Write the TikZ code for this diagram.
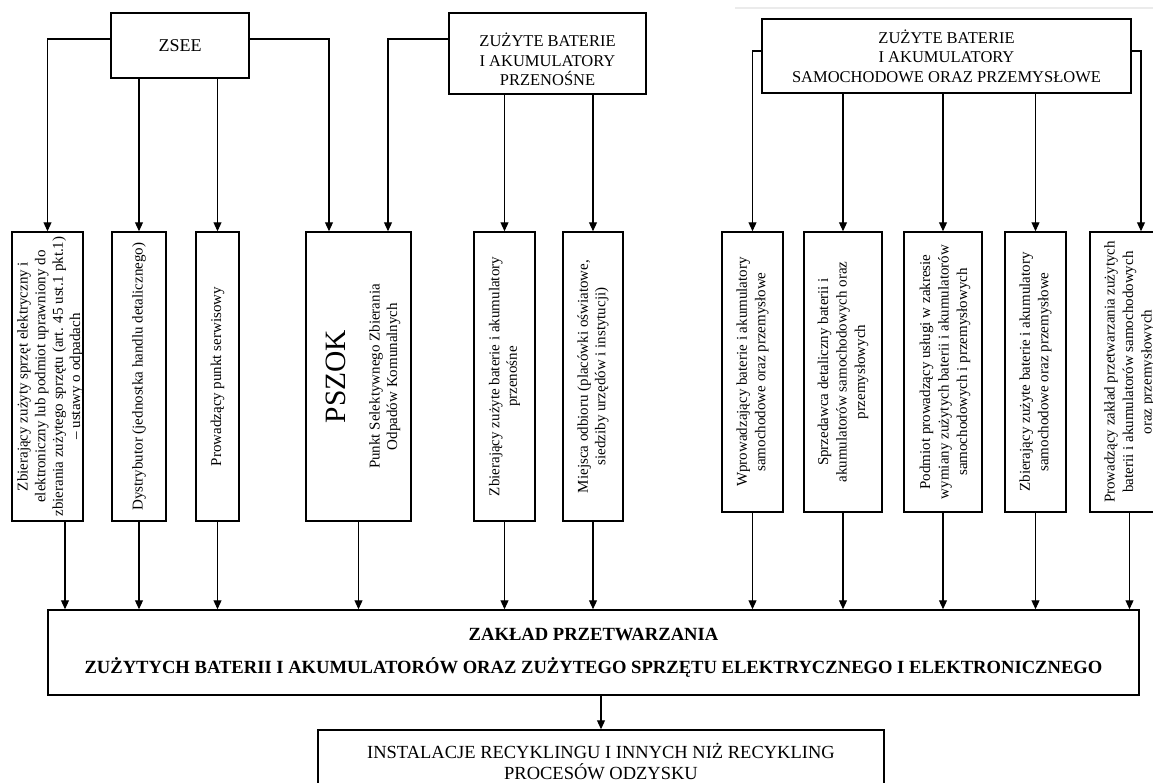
\documentclass[tikz,border=0pt]{standalone}
\usepackage{fontspec}
\setmainfont{Liberation Serif}
\usepackage{graphicx}
\usetikzlibrary{arrows.meta}

\newcommand{\vtext}[1]{\rotatebox{90}{\begin{tabular}{@{}c@{}}#1\end{tabular}}}

\begin{document}
\begin{tikzpicture}[x=1pt,y=-1pt,
	box/.style={draw,line width=1.5pt,inner sep=0pt,align=center},
	vbox/.style={box,font=\fontsize{15}{17.5}\selectfont},
	rbox/.style={box,font=\fontsize{15}{18.5}\selectfont,minimum height=280pt},
	arr/.style={line width=1.1pt,-{Triangle[length=9pt,width=8pt]}}]
	\useasboundingbox (0,0) rectangle (1153,782);
	\clip (0,0) rectangle (1153,782);
	\fill[white] (0,0) rectangle (1153,782);
	\draw[black!8,line width=1.5pt] (735,8) -- (1153,8);
	% top
	\node[box,minimum width=138pt,minimum height=65pt,font=\fontsize{18}{21}\selectfont] (zsee) at (180,45.5) {ZSEE};
	\node[box,minimum width=197pt,minimum height=81pt,font=\fontsize{16.5}{19.5}\selectfont] (przen) at (547.5,53.5) {\rule{0pt}{26pt}ZUŻYTE BATERIE\\I AKUMULATORY\\PRZENOŚNE};
	\node[box,minimum width=369pt,minimum height=74pt,font=\fontsize{16.5}{19.5}\selectfont] (samoch) at (946.5,56) {ZUŻYTE BATERIE\\I AKUMULATORY\\SAMOCHODOWE ORAZ PRZEMYSŁOWE};
	% middle row
	\node[vbox,minimum width=71pt,minimum height=289pt] (zbzsee) at (47.5,376.5) {\hspace*{3pt}\vtext{Zbierający zużyty sprzęt elektryczny i\\elektroniczny lub podmiot uprawniony do\\zbierania zużytego sprzętu (art. 45 ust.1 pkt.1)\\– ustawy o odpadach}\hspace*{-3pt}};
	\node[vbox,minimum width=54pt,minimum height=289pt] (dystr) at (139,376.5) {\vtext{Dystrybutor (jednostka handlu detalicznego)}};
	\node[vbox,minimum width=43pt,minimum height=289pt] (serw) at (217.5,376.5) {\vtext{Prowadzący punkt serwisowy}};
	\node[vbox,minimum width=105pt,minimum height=289pt] (pszok) at (358.5,376.5) {\hspace*{5.5pt}\vtext{{\fontsize{29.5}{34}\selectfont PSZOK}\\[17pt]Punkt Selektywnego Zbierania\\Odpadów Komunalnych}\hspace*{-5.5pt}};
	\node[vbox,minimum width=61pt,minimum height=289pt] (zbprz) at (504.5,376.5) {\vtext{Zbierający zużyte baterie i akumulatory\\przenośne}};
	\node[vbox,minimum width=60pt,minimum height=289pt] (miejsca) at (593,376.5) {\vtext{Miejsca odbioru (placówki oświatowe,\\siedziby urzędów i instytucji)}};
	\node[rbox,minimum width=61pt] (wprow) at (752.5,372) {\vtext{Wprowadzający baterie i akumulatory\\samochodowe oraz przemysłowe}};
	\node[rbox,minimum width=78pt] (sprzed) at (843,372) {\vtext{Sprzedawca detaliczny baterii i\\akumulatorów samochodowych oraz\\przemysłowych}};
	\node[rbox,minimum width=78pt] (podm) at (943,372) {\hspace*{2pt}\vtext{Podmiot prowadzący usługi w zakresie\\wymiany zużytych baterii i akumulatorów\\samochodowych i przemysłowych}\hspace*{-2pt}};
	\node[rbox,minimum width=61pt] (zbsam) at (1035.5,372) {\vtext{Zbierający zużyte baterie i akumulatory\\samochodowe oraz przemysłowe}};
	\node[rbox,minimum width=79pt] (prow) at (1129.5,372) {\vtext{Prowadzący zakład przetwarzania zużytych\\baterii i akumulatorów samochodowych\\oraz przemysłowych}};
	% bottom
	\node[box,minimum width=1091pt,minimum height=85pt,font=\bfseries\fontsize{18.6}{33}\selectfont] (zaklad) at (593.5,652.5) {ZAKŁAD PRZETWARZANIA\\ZUŻYTYCH BATERII I AKUMULATORÓW ORAZ ZUŻYTEGO SPRZĘTU ELEKTRYCZNEGO I ELEKTRONICZNEGO};
	\node[box,minimum width=566pt,minimum height=62pt,font=\fontsize{18.5}{21}\selectfont] (instal) at (601,761) {INSTALACJE RECYKLINGU I INNYCH NIŻ RECYKLING\\PROCESÓW ODZYSKU};
	% arrows from the top boxes
	\draw[arr] ([yshift=6.5pt]zsee.west) -| (zbzsee.north);
	\draw[arr] ([yshift=6.5pt]zsee.east) -| ([xshift=-29.5pt]pszok.north);
	\draw[arr] ([yshift=14.5pt]przen.west) -| ([xshift=29.5pt]pszok.north);
	\draw[arr] ([yshift=5pt]samoch.west) -| (wprow.north);
	\draw[arr] ([yshift=5pt]samoch.east) -| ([xshift=11.5pt]prow.north);
	\foreach \n in {dystr,serw} \draw[arr] (zsee.south -| \n.north) -- (\n.north);
	\foreach \n in {zbprz,miejsca} \draw[arr] (przen.south -| \n.north) -- (\n.north);
	\foreach \n in {sprzed,podm,zbsam} \draw[arr] (samoch.south -| \n.north) -- (\n.north);
	% arrows into the plant
	\coordinate (z1) at ([xshift=17.5pt]zbzsee.south);
	\draw[arr] (z1) -- (z1 |- zaklad.north);
	\foreach \n in {dystr,serw,pszok,zbprz,miejsca,wprow,sprzed,podm,zbsam,prow}
		\draw[arr] (\n.south) -- (\n.south |- zaklad.north);
	\draw[arr] (zaklad.south -| instal.north) -- (instal.north);
\end{tikzpicture}
\end{document}
